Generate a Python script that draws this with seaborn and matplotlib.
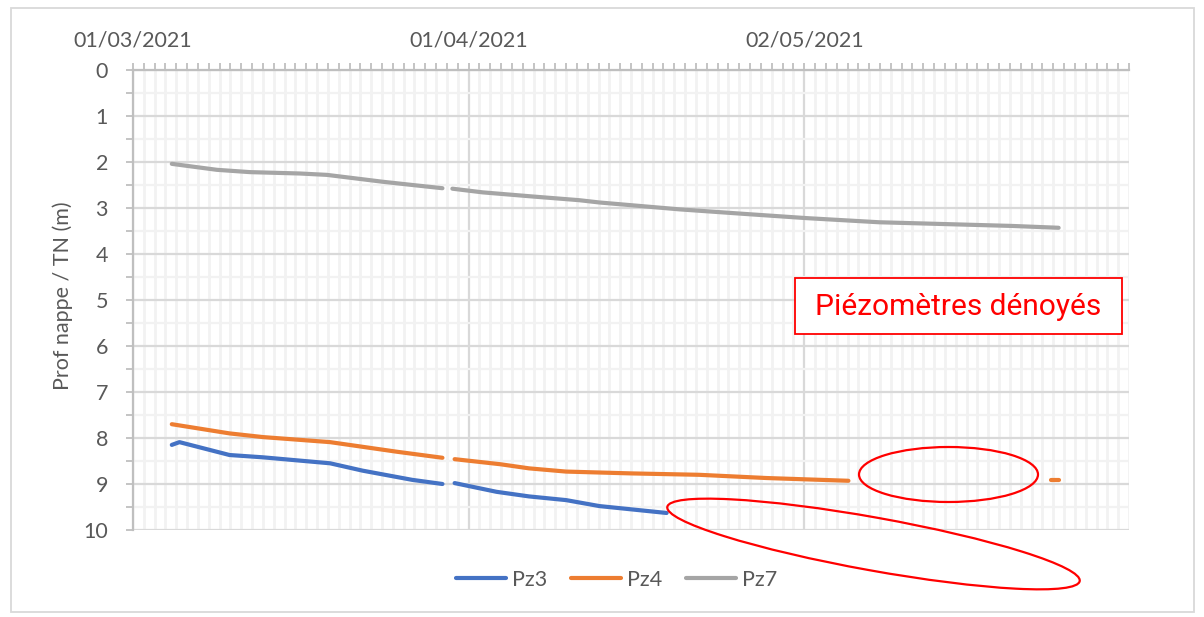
import matplotlib
matplotlib.use("Agg")
import matplotlib.pyplot as plt
import matplotlib.dates as mdates
from matplotlib.patches import Ellipse, Rectangle
from matplotlib.transforms import IdentityTransform
from matplotlib.ticker import FixedLocator, MultipleLocator
import seaborn as sns
import pandas as pd

# ---------------- data ----------------
pz3_dates = ["2021-03-04 14:00", "2021-03-05 07:00", "2021-03-09 22:00", "2021-03-13 00:00",
             "2021-03-19 05:00", "2021-03-22 05:00", "2021-03-26 19:00", "2021-03-29 14:00",
             "2021-03-30 17:00", "2021-04-03 14:00", "2021-04-06 14:00", "2021-04-10 00:00",
             "2021-04-13 02:00", "2021-04-19 07:00"]
pz3_values = [8.15, 8.09, 8.37, 8.42, 8.55, 8.71, 8.91, 9.00,
              8.98, 9.17, 9.27, 9.35, 9.48, 9.63]
pz3_segment = [0, 0, 0, 0, 0, 0, 0, 0, 1, 1, 1, 1, 1, 1]

pz4_dates = ["2021-03-04 14:00", "2021-03-09 22:00", "2021-03-13 00:00", "2021-03-19 05:00",
             "2021-03-25 10:00", "2021-03-29 14:00", "2021-03-30 17:00", "2021-04-03 22:00",
             "2021-04-06 14:00", "2021-04-10 00:00", "2021-04-16 02:00", "2021-04-22 07:00",
             "2021-04-28 12:00", "2021-05-06 02:00", "2021-05-24 19:00", "2021-05-25 12:00"]
pz4_values = [7.70, 7.90, 7.98, 8.09, 8.30, 8.43, 8.46, 8.57,
              8.66, 8.73, 8.77, 8.80, 8.87, 8.93, 8.91, 8.91]
pz4_segment = [0, 0, 0, 0, 0, 0, 1, 1, 1, 1, 1, 1, 1, 1, 2, 2]

pz7_dates = ["2021-03-04 14:00", "2021-03-08 18:00", "2021-03-11 19:00", "2021-03-16 10:00",
             "2021-03-18 22:00", "2021-03-24 02:00", "2021-03-27 05:00", "2021-03-29 14:00",
             "2021-03-30 12:00", "2021-04-02 07:00", "2021-04-06 22:00", "2021-04-11 05:00",
             "2021-04-13 02:00", "2021-04-20 12:00", "2021-04-26 14:00", "2021-05-02 05:00",
             "2021-05-08 22:00", "2021-05-15 02:00", "2021-05-21 05:00", "2021-05-25 12:00"]
pz7_values = [2.04, 2.17, 2.22, 2.25, 2.28, 2.43, 2.51, 2.57,
              2.58, 2.66, 2.75, 2.83, 2.88, 3.03, 3.13, 3.22,
              3.31, 3.35, 3.39, 3.43]
pz7_segment = [0, 0, 0, 0, 0, 0, 0, 0, 1, 1, 1, 1, 1, 1, 1, 1, 1, 1, 1, 1]

series_names = ["Pz3", "Pz4", "Pz7"]
series_colors = ["#4472C4", "#ED7D31", "#A5A5A5"]
x_tick_dates = ["2021-03-01", "2021-04-01", "2021-05-02"]
x_limits = ["2021-03-01", "2021-06-01"]
y_ticks = [0, 1, 2, 3, 4, 5, 6, 7, 8, 9, 10]
y_label = "Prof nappe / TN (m)"
note_text = "Piézomètres dénoyés"

frames = []
for name, d, v, s in [("Pz3", pz3_dates, pz3_values, pz3_segment),
                      ("Pz4", pz4_dates, pz4_values, pz4_segment),
                      ("Pz7", pz7_dates, pz7_values, pz7_segment)]:
    frames.append(pd.DataFrame({"date": pd.to_datetime(d), "value": v,
                                "series": name, "seg": [f"{name}_{k}" for k in s]}))
df = pd.concat(frames, ignore_index=True)

# ---------------- plot ----------------
sns.set_theme(style="white")
plt.rcParams["font.family"] = ["Lato", "DejaVu Sans"]

W, H = 1204, 617
fig = plt.figure(figsize=(W / 100, H / 100), dpi=100)
ax = fig.add_axes([133 / W, 1 - 530 / H, (1129 - 133) / W, (530 - 70) / H])

sns.lineplot(data=df, x="date", y="value", hue="series", units="seg", estimator=None,
             hue_order=series_names, palette=series_colors, linewidth=3.0,
             sort=False, ax=ax)

ax.set_xlim(pd.to_datetime(x_limits[0]), pd.to_datetime(x_limits[1]))
ax.set_ylim(10, 0)

ax.xaxis.tick_top()
ax.xaxis.set_major_locator(FixedLocator(mdates.date2num(pd.to_datetime(x_tick_dates))))
ax.xaxis.set_major_formatter(mdates.DateFormatter("%d/%m/%Y"))
ax.xaxis.set_minor_locator(mdates.DayLocator())
ax.yaxis.set_major_locator(FixedLocator(y_ticks))
ax.yaxis.set_minor_locator(MultipleLocator(0.5))

axis_col = "#BFBFBF"
text_col = "#595959"
ax.tick_params(axis="x", which="both", top=True, bottom=False, direction="out",
               length=5, width=1.3, color=axis_col, labelsize=15.5, labelcolor=text_col, pad=9)
ax.tick_params(axis="y", which="both", left=True, direction="out", length=5, width=1.3,
               color=axis_col, labelsize=15.5, labelcolor=text_col, pad=13)

ax.set_axisbelow(True)
ax.grid(which="minor", axis="x", color="#F2F2F2", linewidth=2)
ax.grid(which="minor", axis="y", color="#F2F2F2", linewidth=1.6)
ax.grid(which="major", axis="y", color="#D9D9D9", linewidth=1.6)
ax.grid(which="major", axis="x", color="#D9D9D9", linewidth=1.6)

for side in ["right", "bottom"]:
    ax.spines[side].set_visible(False)
for side in ["left", "top"]:
    ax.spines[side].set_color(axis_col)
    ax.spines[side].set_linewidth(1.6)

ax.set_xlabel("")
ax.set_ylabel(y_label, fontsize=15.5, color=text_col)
ax.yaxis.set_label_coords(-(133 - 73) / (1129 - 133), 0.51)

handles, labels = ax.get_legend_handles_labels()
ax.get_legend().remove()
for h in handles:
    h.set_linewidth(3.0)
fig.legend(handles, labels, loc="center", bbox_to_anchor=(617 / W, 1 - 580 / H), ncol=3,
           frameon=False, fontsize=15.5, labelcolor=text_col, handlelength=2.3,
           handletextpad=0.3, columnspacing=1.1)

# ---------------- annotations (pixel coordinates) ----------------
ident = IdentityTransform()
fig.add_artist(Rectangle((11, H - 612), 1194 - 11, 612 - 8, transform=ident,
                         fill=False, edgecolor="#D9D9D9", linewidth=1.3))
fig.add_artist(Ellipse((948.5, H - 474.5), 179, 55, angle=0, transform=ident,
                       fill=False, edgecolor="#FF0000", linewidth=1.6))
fig.add_artist(Ellipse((873.5, H - 544), 419, 53, angle=-10.2, transform=ident,
                       fill=False, edgecolor="#FF0000", linewidth=1.6))
fig.add_artist(Rectangle((795, H - 334), 1122 - 795, 334 - 278, transform=ident,
                         facecolor="white", edgecolor="#FF0000", linewidth=1.3))
fig.text(958.5 / W, 1 - 307 / H, note_text, ha="center", va="center", color="#FF0000",
         fontsize=21.5, family=["Roboto", "DejaVu Sans"])

fig.savefig("out.png", dpi=100)
